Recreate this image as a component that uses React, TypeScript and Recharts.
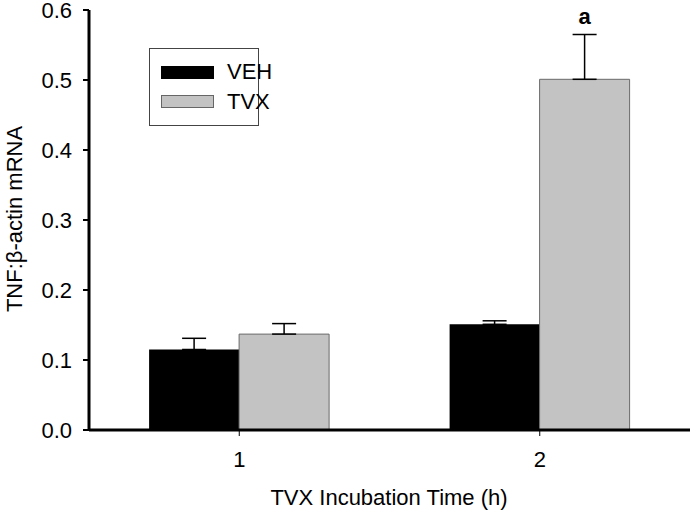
import React from "react";
import { BarChart, Bar, XAxis, YAxis, ErrorBar, LabelList } from "recharts";

const categories = ["1", "2"];
const vehValues = [0.115, 0.151];
const vehErrors = [0.016, 0.005];
const tvxValues = [0.137, 0.501];
const tvxErrors = [0.015, 0.064];
const tvxMarks = ["", "a"];
const yTicks = [0, 0.1, 0.2, 0.3, 0.4, 0.5, 0.6];
const seriesNames = ["VEH", "TVX"];

const data = categories.map((c, i) => ({
  cat: c,
  VEH: vehValues[i],
  VEHerr: [0, vehErrors[i]],
  TVX: tvxValues[i],
  TVXerr: [0, tvxErrors[i]],
  mark: tvxMarks[i],
}));

const FONT = "'Liberation Sans', Arial, sans-serif";
const FS = 22;

const LegendBox = () => (
  <div
    style={{
      position: "absolute",
      left: 149,
      top: 48,
      width: 110,
      height: 78,
      border: "1px solid #444",
      background: "#fff",
      boxSizing: "border-box",
      fontFamily: FONT,
      fontSize: FS,
      color: "#000",
    }}
  >
    <div style={{ position: "absolute", left: 11, top: 17, width: 53, height: 13, background: "#000" }} />
    <div style={{ position: "absolute", left: 77, top: 12, lineHeight: "22px", whiteSpace: "nowrap" }}>{seriesNames[0]}</div>
    <div
      style={{
        position: "absolute",
        left: 11,
        top: 46,
        width: 53,
        height: 13,
        background: "#c3c3c3",
        border: "1px solid #666",
        boxSizing: "border-box",
      }}
    />
    <div style={{ position: "absolute", left: 77, top: 42, lineHeight: "22px", whiteSpace: "nowrap" }}>{seriesNames[1]}</div>
  </div>
);

const MarkLabel = (props: any) => {
  const { x, y, width, height, index } = props;
  const label = tvxMarks[index];
  if (!label) return null;
  const v = tvxValues[index];
  const pxPerUnit = height / v;
  const errTop = y - tvxErrors[index] * pxPerUnit;
  return (
    <text
      x={x + width / 2}
      y={errTop - 11}
      textAnchor="middle"
      fontFamily={FONT}
      fontSize={FS}
      fontWeight="bold"
      fill="#000"
    >
      {label}
    </text>
  );
};

const YLabel = () => (
  <text
    x={22}
    y={219}
    transform="rotate(-90, 22, 219)"
    textAnchor="middle"
    fontFamily={FONT}
    fontSize={FS}
    fill="#000"
  >
    TNF:β-actin mRNA
  </text>
);

const XLabel = () => (
  <text x={389} y={505} textAnchor="middle" fontFamily={FONT} fontSize={FS} fill="#000">
    TVX Incubation Time (h)
  </text>
);

export default function App() {
  return (
    <div style={{ position: "absolute", left: 0, top: 0, width: 693, height: 516, background: "#fff" }}>
      <BarChart
        width={693}
        height={516}
        data={data}
        margin={{ top: 10, right: 3, left: 0, bottom: 0 }}
        barCategoryGap="20%"
        barGap={0}
      >
        <XAxis
          dataKey="cat"
          height={86}
          axisLine={{ stroke: "#000", strokeWidth: 3 }}
          tickLine={{ stroke: "#000", strokeWidth: 1 }}
          tickSize={6}
          tickMargin={15}
          tick={{ fill: "#000", fontSize: FS, fontFamily: FONT }}
          label={<XLabel />}
        />
        <YAxis
          width={89}
          domain={[0, 0.6]}
          ticks={yTicks}
          interval={0}
          tickFormatter={(v: number) => v.toFixed(1)}
          axisLine={{ stroke: "#000", strokeWidth: 3 }}
          tickLine={{ stroke: "#000", strokeWidth: 2 }}
          tickSize={6}
          tickMargin={11}
          tick={{ fill: "#000", fontSize: FS, fontFamily: FONT }}
          label={<YLabel />}
        />
        <Bar dataKey="VEH" fill="#000" stroke="#000" strokeWidth={0} isAnimationActive={false}>
          <ErrorBar dataKey="VEHerr" width={12} stroke="#000" strokeWidth={1.5} direction="y" />
        </Bar>
        <Bar dataKey="TVX" fill="#c3c3c3" stroke="#6a6a6a" strokeWidth={1} isAnimationActive={false}>
          <ErrorBar dataKey="TVXerr" width={12} stroke="#000" strokeWidth={1.5} direction="y" />
          <LabelList dataKey="mark" content={<MarkLabel />} />
        </Bar>
      </BarChart>
      <LegendBox />
    </div>
  );
}
